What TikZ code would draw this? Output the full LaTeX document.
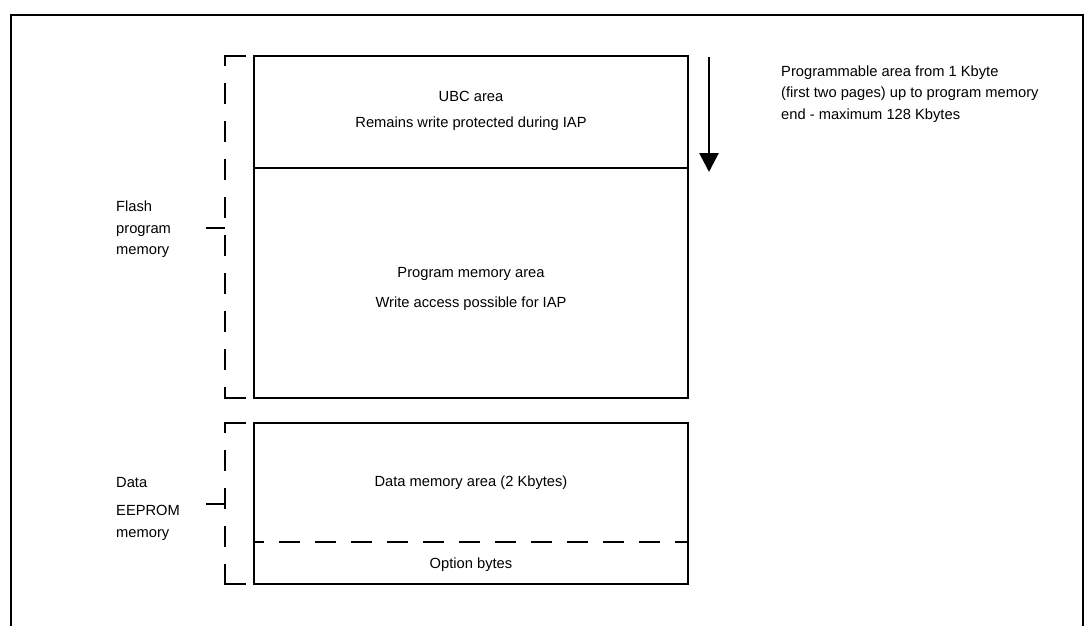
\documentclass[tikz,border=0pt]{standalone}
\usepackage{fontspec}
\setmainfont{Liberation Sans}
\usetikzlibrary{arrows.meta}
\usetikzlibrary{positioning}

\begin{document}
\begin{tikzpicture}[x=1pt, y=-1pt, font=\fontsize{14.7}{21.5}\selectfont,
    box/.style={line width=2.7pt},
    brace/.style={line width=2.7pt, dash pattern=on 21pt off 17pt, dash phase=11pt},
    txt/.style={align=center, inner sep=0pt},
    lbl/.style={align=left, anchor=west, inner sep=0pt}]

  \useasboundingbox (0,0) rectangle (1090,626);

  	\def\bl{254};
	\def\br{688};
	\def\bm{471};

	%outer frame
  \draw[line width=2.4pt] (11,626) -- (11,15) -- (1083,15) -- (1083,626);

	%flash box
  \draw[box] (\bl,56) rectangle (\br,398);
  \draw[box] (\bl,168) -- (\br,168);

	%data box
  \draw[box] (\bl,423) rectangle (\br,584);
  \draw[box, dash pattern=on 21pt off 15pt, dash phase=11pt] (\bl,542) -- (\br,542);

	%box texts
    \foreach \y/\t/\name in {96/UBC area/ubc, 124/Remains write protected during IAP/ubcnote,
                              274/Program memory area/prog, 304/Write access possible for IAP/prognote,
                              483/Data memory area (2 Kbytes)/data, 565/Option bytes/opt}{
         \node[txt] (\name) at (\bm,\y) {\t};
    }

	%brackets
    \foreach \t/\b/\m/\name in {56/398/228/flash, 423/584/504/eeprom}{
         \draw[brace] (225,\t) -- (225,\b);
         \draw[box] (246,\t) -- (224,\t) (224,\b) -- (246,\b);
         \coordinate (\name tick) at (206,\m);
         \coordinate (\name brk) at (225,\m);
         \draw[box] (\name tick) -- (\name brk);
    }

  \node[lbl] (flashlbl) at (116,229.5) {Flash\\program\\memory};
  \node[lbl] (eepromlbl) at (116,509) {Data\\[6.5pt]EEPROM\\memory};

	%arrow
  \coordinate (atop) at (709,57);
  \coordinate (abot) at (709,172);
  \draw[line width=2.7pt, -{Triangle[width=19pt,length=19pt]}] (atop) -- (abot);
  \node[lbl] (range) at (781,94) {Programmable area from 1 Kbyte\\(first two pages) up to program memory\\end - maximum 128 Kbytes};

\end{tikzpicture}
\end{document}
